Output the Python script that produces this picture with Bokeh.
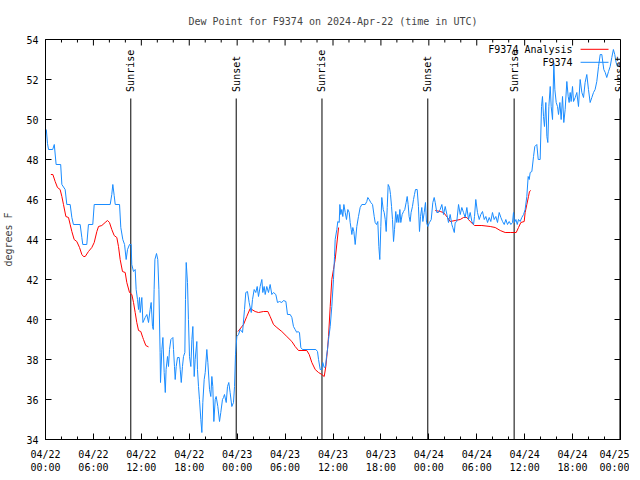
import math
from bokeh.plotting import figure
from bokeh.models import FixedTicker, Range1d, Label
from bokeh.embed import file_html
from bokeh.resources import INLINE

TITLE = "Dew Point for F9374 on 2024-Apr-22 (time in UTC)"
Y_LABEL = "degrees F"

# hours since 2024-04-22 00:00 UTC
x_tick_hours = [0, 6, 12, 18, 24, 30, 36, 42, 48, 54, 60, 66, 72]
x_tick_labels = ["04/22\n00:00", "04/22\n06:00", "04/22\n12:00", "04/22\n18:00",
                 "04/23\n00:00", "04/23\n06:00", "04/23\n12:00", "04/23\n18:00",
                 "04/24\n00:00", "04/24\n06:00", "04/24\n12:00", "04/24\n18:00",
                 "04/25\n00:00"]
y_ticks = [34, 36, 38, 40, 42, 44, 46, 48, 50, 52, 54]

event_hours = [10.68, 23.88, 34.62, 47.87, 58.68, 71.93]
event_labels = ["Sunrise", "Sunset", "Sunrise", "Sunset", "Sunrise", "Sunset"]

obs_hours = [0.1, 0.25, 0.38, 0.9, 1.1, 1.33, 1.9, 2.05, 2.46, 2.67, 3.09, 3.3, 3.5, 4.34, 4.55, 4.67, 5.17, 5.38, 5.92, 6.1,
             8.1, 8.3, 8.43, 8.6, 8.73, 9.27, 9.43, 9.68, 9.9, 10.1, 10.27, 10.52, 10.73, 10.8, 11.02, 11.23, 11.35, 11.52,
             11.65, 11.77, 11.86, 12.06, 12.2, 12.48, 12.69, 12.9, 13.1, 13.23, 13.4, 13.5, 13.6, 13.7, 13.9, 14.06, 14.2,
             14.35, 14.4, 14.57, 14.7, 14.86, 15.0, 15.1, 15.28, 15.4, 15.53, 15.7, 15.95, 16.03, 16.15, 16.24, 16.37,
             16.53, 16.74, 16.87, 17.0, 17.15, 17.28, 17.45, 17.53, 17.62, 17.78, 17.9, 18.03, 18.2, 18.33, 18.45, 18.62,
             18.74, 18.95, 19.03, 19.16, 19.28, 19.45, 19.58, 19.7, 19.87, 20.0, 20.2, 20.33, 20.54, 20.7, 20.83, 20.95,
             21.08, 21.25, 21.37, 21.58, 21.79, 21.95, 22.16, 22.29, 22.41, 22.63, 22.79, 22.95, 23.12, 23.33, 23.54,
             23.67, 23.79, 23.96, 24.17, 24.38, 24.67, 24.92, 25.08, 25.29, 25.5, 25.76, 25.92, 26.13, 26.33, 26.51,
             26.67, 26.88, 27.09, 27.21, 27.38, 27.51, 27.71, 27.92, 28.13, 28.34, 28.55, 28.84, 29.05, 29.3, 29.59,
             29.8, 30.1, 30.3, 30.64, 30.85, 31.05, 31.26, 31.47, 31.6, 31.8, 31.97, 32.18, 33.85, 34.06, 34.19, 34.4,
             34.6, 34.72, 34.9, 35.06, 35.19, 35.31, 35.44, 35.65, 35.85, 36.06, 36.19, 36.27, 36.48, 36.6, 36.78,
             36.86, 36.98, 37.1, 37.23, 37.36, 37.53, 37.69, 37.86, 38.03, 38.15, 38.28, 38.36, 38.48, 38.61, 38.78,
             38.98, 39.19, 39.4, 39.61, 40.03, 40.23, 40.36, 40.53, 40.73, 40.95, 41.16, 41.28, 41.45, 41.61, 41.74,
             41.86, 41.99, 42.11, 42.29, 42.41, 42.54, 42.66, 42.79, 42.91, 43.08, 43.2, 43.33, 43.45, 43.58, 43.7,
             43.86, 43.99, 44.11, 44.24, 44.37, 44.49, 44.66, 44.83, 44.99, 45.16, 45.29, 45.41, 45.53, 45.66, 45.78,
             45.95, 46.08, 46.2, 46.33, 46.54, 46.7, 46.83, 46.96, 47.12, 47.25, 47.42, 47.58, 47.71, 47.87, 48.08,
             48.3, 48.5, 48.67, 48.8, 49.0, 49.2, 49.42, 49.63, 49.84, 50.05, 50.26, 50.46, 50.67, 50.88, 51.0, 51.19,
             51.3, 51.5, 51.72, 51.93, 52.13, 52.34, 52.55, 52.76, 52.97, 53.18, 53.39, 53.6, 53.72, 53.88, 54.09,
             54.31, 54.51, 54.72, 54.94, 55.14, 55.35, 55.56, 55.76, 55.97, 56.18, 56.39, 56.6, 56.81, 57.02, 57.23,
             57.44, 57.64, 57.85, 58.06, 58.27, 58.48, 58.6, 58.73, 58.9, 59.07, 59.23, 59.44, 59.64, 59.86, 60.06,
             60.27, 60.44, 60.57, 60.69, 60.9, 61.11, 61.27, 61.52, 61.7, 61.94, 62.11, 62.23, 62.36, 62.48, 62.65,
             62.78, 62.9, 63.03, 63.2, 63.32, 63.49, 63.65, 63.78, 63.95, 64.11, 64.24, 64.41, 64.57, 64.74, 64.9,
             65.07, 65.28, 65.45, 65.57, 65.7, 65.82, 65.99, 66.12, 66.33, 66.53, 66.74, 66.95, 67.16, 67.37, 67.57,
             67.78, 67.99, 68.2, 68.41, 68.62, 68.82, 69.03, 69.25, 69.46, 69.66, 69.79, 69.91, 70.09, 70.28, 70.5,
             70.71, 70.91, 71.11, 71.28, 71.45, 71.62, 71.79]
obs_dewpt = [49.5, 48.8, 48.5, 48.5, 48.75, 47.75, 47.75, 46.75, 46.5, 45.75, 45.75, 45.1, 44.75, 44.75, 44.1, 43.75, 43.75, 44.75, 44.75, 45.75,
             45.75, 46.25, 46.75, 46.2, 45.75, 45.75, 44.6, 44.0, 43.75, 43.0, 43.5, 43.75, 43.75, 42.75, 42.4, 42.5, 41.5, 41.0,
             40.5, 41.1, 40.35, 41.1, 39.85, 40.1, 40.25, 39.85, 40.5, 40.85, 39.65, 39.5, 41.5, 43.0, 43.3, 43.0, 41.5,
             38.35, 36.85, 38.5, 39.1, 37.35, 36.35, 37.5, 38.15, 37.65, 38.5, 39.0, 39.1, 38.5, 37.65, 37.0, 37.65,
             38.1, 38.1, 37.5, 36.85, 37.65, 38.15, 38.35, 41.0, 42.85, 41.85, 40.0, 38.15, 37.65, 39.0, 39.65, 37.15,
             38.0, 38.9, 37.5, 36.65, 36.0, 35.0, 34.35, 35.85, 37.0, 37.35, 38.5, 37.85, 36.5, 36.15, 37.15, 36.65,
             34.9, 36.0, 36.15, 35.65, 34.9, 35.35, 36.0, 36.1, 36.25, 35.85, 36.65, 36.85, 36.35, 35.65, 35.85,
             36.65, 38.25, 39.15, 39.25, 39.5, 39.35, 40.5, 41.35, 41.4, 40.85, 40.35, 41.0, 41.5, 41.35, 41.65,
             41.15, 41.65, 42.0, 41.35, 41.65, 41.25, 41.65, 41.35, 41.75, 41.25, 41.35, 41.25, 40.85, 40.9, 40.85,
             40.95, 40.9, 40.25, 40.25, 40.1, 39.65, 39.5, 39.35, 39.4, 39.35, 38.6, 38.5, 38.5, 38.4, 38.0, 37.5,
             37.5, 37.85, 37.6, 37.65, 38.15, 38.5, 39.0, 39.65, 40.65, 42.0, 43.15, 44.0, 44.5, 44.9, 44.85,
             45.75, 45.25, 45.5, 45.15, 45.75, 45.35, 45.0, 45.5, 45.35, 44.85, 44.5, 44.25, 44.6, 44.4, 43.75,
             44.65, 45.15, 45.6, 45.75, 45.75, 45.9, 46.1, 46.0, 45.85, 45.75, 45.15, 44.85, 44.75, 44.9, 43.65,
             43.0, 44.65, 46.1, 45.5, 45.35, 45.0, 44.4, 45.6, 46.75, 46.6, 46.25, 45.65, 45.0, 43.9, 44.5,
             45.4, 44.85, 45.25, 44.85, 45.5, 44.85, 45.25, 45.4, 45.5, 45.85, 46.15, 45.75, 45.15, 44.9, 45.35,
             45.65, 46.0, 46.25, 46.5, 46.5, 45.65, 44.4, 45.15, 45.6, 44.9, 45.35, 45.85, 44.85, 44.65, 44.85,
             45.0, 45.85, 46.1, 45.85, 45.35, 45.35, 45.5, 45.75, 45.25, 45.65, 45.25, 44.85, 45.25, 44.75, 44.6, 44.35,
             44.85, 44.9, 45.75, 45.25, 45.6, 45.35, 45.1, 45.6, 45.0, 45.35, 44.9, 44.75, 45.15, 46.0, 45.35,
             45.0, 45.25, 45.4, 45.0, 45.15, 44.85, 45.1, 44.9, 45.35, 45.0, 45.15, 44.85, 45.35, 45.1, 44.9,
             44.75, 45.0, 44.75, 44.9, 44.75, 44.85, 45.35, 44.85, 45.0, 44.75, 45.0, 44.9, 45.1, 45.25, 45.5,
             46.15, 47.15, 47.0, 47.35, 47.4, 48.15, 48.65, 48.75, 48.0, 48.0, 50.65, 51.15, 50.15, 49.65, 50.85,
             49.15, 48.85, 50.65, 51.65, 50.65, 50.0, 52.83, 51.5, 50.85, 50.65, 50.25, 50.85, 50.0, 51.15, 49.85,
             50.5, 51.9, 51.15, 50.85, 51.35, 50.9, 51.65, 50.9, 51.1, 51.35, 50.65, 52.0, 51.35, 51.1, 51.85,
             52.25, 51.5, 50.85, 51.1, 51.35, 51.5, 51.9, 52.65, 53.25, 53.25, 52.85, 52.5, 52.35, 52.1, 52.4,
             52.65, 53.1, 53.5, 53.25, 52.85, 52.65, 52.75]

ana1_hours = [0.67, 0.92, 1.21, 1.5, 1.83, 2.05, 2.25, 2.55, 2.88, 3.09, 3.3, 3.59, 3.92, 4.26, 4.55, 4.76, 4.97, 5.38,
              5.8, 6.1, 6.43, 6.64, 7.05, 7.47, 7.76, 8.01, 8.3, 8.6, 8.93, 9.14, 9.35, 9.64, 9.98, 10.18, 10.52, 10.81,
              11.02, 11.23, 11.43, 11.65, 11.93, 12.18, 12.27, 12.56, 12.9]
ana1_dewpt = [47.25, 47.25, 46.9, 46.6, 46.5, 46.15, 45.75, 45.15, 45.1, 44.75, 44.4, 44.0, 43.9, 43.6, 43.25, 43.15, 43.15, 43.4,
              43.6, 43.85, 44.4, 44.65, 44.7, 44.85, 44.95, 44.85, 44.5, 44.2, 44.1, 43.65, 43.0, 42.4, 42.35, 41.85, 41.35, 41.25,
              40.85, 40.35, 39.85, 39.45, 39.4, 39.1, 39.0, 38.7, 38.63]
ana2_hours = [24.1, 24.8, 25.2, 25.63, 26.25, 26.67, 27.3, 27.84, 28.13, 28.55, 28.97, 29.59, 30.22, 30.85, 31.26, 31.68,
              32.72, 33.02, 33.35, 33.77, 34.19, 34.6, 34.9, 35.1, 35.31, 35.44, 35.65, 35.85, 36.06, 36.27, 36.7]
ana2_dewpt = [39.4, 39.75, 40.15, 40.55, 40.4, 40.35, 40.4, 40.4, 40.15, 39.75, 39.6, 39.4, 39.15, 38.9, 38.65, 38.45,
              38.45, 38.25, 37.85, 37.5, 37.35, 37.25, 37.15, 37.65, 38.5, 39.15, 40.65, 42.0, 42.5, 43.0, 44.6]
ana3_hours = [48.8, 49.42, 49.84, 50.34, 50.67, 51.3, 51.93, 52.34, 52.76, 53.18, 53.72, 54.64, 55.69, 56.31, 56.94,
              57.56, 58.19, 58.94, 59.23, 59.52, 59.94, 60.06, 60.27, 60.48, 60.6, 60.77]
ana3_dewpt = [45.45, 45.4, 45.35, 45.1, 44.9, 44.95, 45.0, 45.1, 45.1, 44.9, 44.7, 44.7, 44.65, 44.6, 44.45,
              44.35, 44.35, 44.35, 44.6, 44.85, 44.9, 45.35, 45.75, 46.15, 46.4, 46.45]

ana_hours = ana1_hours + [math.nan] + ana2_hours + [math.nan] + ana3_hours
ana_dewpt = ana1_dewpt + [math.nan] + ana2_dewpt + [math.nan] + ana3_dewpt

FONT = "DejaVu Sans Mono"
RED = "#ff0000"
BLUE = "#1a8cff"

X0, X1, Y0, Y1 = 0, 72, 34, 54
FW, FH = 575, 400

p = figure(frame_width=FW, frame_height=FH, x_range=Range1d(X0, X1), y_range=Range1d(Y0, Y1),
           output_backend="svg", toolbar_location=None,
           min_border_left=40, min_border_right=9, min_border_top=32, min_border_bottom=32)
p.title.text = TITLE
p.title.align = "center"
p.title.text_font = FONT
p.title.text_font_size = "10px"
p.title.text_font_style = "normal"
p.title.standoff = 26
p.grid.visible = False
p.outline_line_color = "black"
p.outline_line_width = 1
p.background_fill_color = "white"
p.border_fill_color = "white"

minor_x = [h for h in range(0, 73, 2) if h % 6 != 0]

def style_axis(ax, ticks, minor):
    ax.ticker = FixedTicker(ticks=ticks, minor_ticks=minor)
    ax.major_tick_in = 6
    ax.major_tick_out = 0
    ax.minor_tick_in = 3
    ax.minor_tick_out = 0
    ax.major_tick_line_color = "black"
    ax.minor_tick_line_color = "black"
    ax.axis_line_color = "black"
    ax.major_label_text_font = FONT
    ax.major_label_text_font_size = "10px"
    ax.major_label_text_color = "black"

xa = p.xaxis[0]
style_axis(xa, x_tick_hours, minor_x)
xa.major_label_standoff = 9
xa.major_label_overrides = {h: lab for h, lab in zip(x_tick_hours, x_tick_labels)}
xa.major_label_text_line_height = 1.25
ya = p.yaxis[0]
style_axis(ya, y_ticks, [])
ya.major_label_standoff = 7
ya.major_label_overrides = {v: str(v) for v in y_ticks}
ya.axis_label = Y_LABEL
ya.axis_label_text_font = FONT
ya.axis_label_text_font_size = "10px"
ya.axis_label_text_font_style = "normal"
ya.axis_label_standoff = 9

# mirrored inward ticks on the top and right edges
px_x = (X1 - X0) / FW
px_y = (Y1 - Y0) / FH
p.segment(x0=x_tick_hours, x1=x_tick_hours, y0=[Y1] * len(x_tick_hours),
          y1=[Y1 - 6 * px_y] * len(x_tick_hours), line_color="black", line_width=1)
p.segment(x0=minor_x, x1=minor_x, y0=[Y1] * len(minor_x),
          y1=[Y1 - 3 * px_y] * len(minor_x), line_color="black", line_width=1)
p.segment(x0=[X1] * len(y_ticks), x1=[X1 - 6 * px_x] * len(y_ticks), y0=y_ticks, y1=y_ticks,
          line_color="black", line_width=1)

# sunrise / sunset markers
p.segment(x0=event_hours, x1=event_hours, y0=[Y0] * len(event_hours), y1=[51.05] * len(event_hours),
          line_color="black", line_width=1)
for h, lab in zip(event_hours, event_labels):
    p.add_layout(Label(x=h, y=51.38, text=lab, angle=90, angle_units="deg",
                       text_align="left", text_baseline="middle",
                       text_font=FONT, text_font_size="10px", text_color="black"))

# series
p.line(ana_hours, ana_dewpt, line_color=RED, line_width=1)
p.line(obs_hours, obs_dewpt, line_color=BLUE, line_width=1)

# key
p.add_layout(Label(x=66.0, y=53.51, text="F9374 Analysis", text_align="right", text_baseline="middle",
                   text_font=FONT, text_font_size="10px", text_color="black"))
p.add_layout(Label(x=66.0, y=52.86, text="F9374", text_align="right", text_baseline="middle",
                   text_font=FONT, text_font_size="10px", text_color="black"))
p.line([67.0, 70.5], [53.51, 53.51], line_color=RED, line_width=1)
p.line([67.0, 70.5], [52.86, 52.86], line_color=BLUE, line_width=1)

open("out.html", "w").write(file_html(p, INLINE))
